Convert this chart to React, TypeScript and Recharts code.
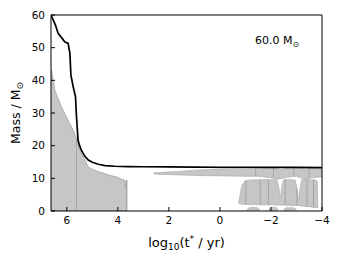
import React from 'react';
import { ComposedChart, XAxis, YAxis, Area, Line, ReferenceLine } from 'recharts';

const xTicks = [6, 4, 2, 0, -2, -4];
const yTicks = [0, 10, 20, 30, 40, 50, 60];

// total stellar mass (black line)
const massX = [6.62, 6.45, 6.34, 6.2, 6.08, 5.95, 5.88, 5.84, 5.75, 5.66, 5.62, 5.56, 5.5, 5.43, 5.3, 5.16, 5.0, 4.77, 4.5, 4.12, 3.6, 3.0, 2.0, 1.0, 0.0, -1.0, -2.0, -3.0, -4.0];
const massY = [60, 57.0, 54.4, 53.0, 51.8, 51.3, 48.3, 41.6, 38, 35, 28.8, 21.7, 20.0, 18.6, 16.8, 15.6, 14.9, 14.3, 13.9, 13.7, 13.6, 13.55, 13.5, 13.45, 13.4, 13.4, 13.35, 13.35, 13.3];

// convective core
const coreX = [6.62, 6.6, 6.47, 6.21, 5.95, 5.75, 5.62, 5.49, 5.29, 5.16, 5.0, 4.82, 4.5, 4.3, 4.0, 3.9, 3.8, 3.74, 3.72, 3.7, 3.68, 3.66, 3.65, 3.649];
const coreTop = [43.5, 43.2, 37, 31.9, 27.8, 24.7, 22.2, 18.6, 15.6, 13.5, 12.8, 12.2, 11.4, 10.9, 10.3, 9.9, 9.6, 9.4, 7.5, 7.2, 9.3, 9.5, 9.4, 0];
const coreBottom = [0, 0, 0, 0, 0, 0, 0, 0, 0, 0, 0, 0, 0, 0, 0, 0, 0, 0, 0, 0, 0, 0, 0, 0];

// thin convective shell
const bandX = [2.6, 2.3, 1.9, 1.5, 1.0, 0.5, 0.0, -0.4, -1.0, -1.5, -2.0, -2.2, -2.4, -2.6, -3.0, -3.2, -3.4, -3.6, -4.0];
const bandTop = [11.7, 11.8, 12.0, 12.2, 12.5, 12.7, 12.9, 13.0, 13.1, 13.1, 13.2, 13.2, 12.6, 13.2, 13.3, 13.3, 12.8, 13.3, 13.3];
const bandBottom = [11.3, 11.2, 11.1, 11.0, 10.9, 10.8, 10.75, 10.7, 10.6, 10.6, 10.2, 9.8, 9.9, 10.3, 10.6, 10.0, 9.9, 10.2, 10.5];

// late convective region
const lowX = [-0.73, -0.8, -0.86, -0.99, -1.2, -1.6, -2.0, -2.24, -2.3, -2.36, -2.38, -2.42, -2.5, -2.8, -2.95, -3.02, -3.07, -3.09, -3.14, -3.2, -3.4, -3.6, -3.75, -3.82, -3.83];
const lowTop = [2.3, 5.5, 7.9, 9.2, 9.5, 9.6, 9.6, 9.6, 7.5, 4.5, 4.5, 7.5, 9.6, 9.6, 9.4, 7.0, 3.8, 3.8, 7.0, 9.6, 9.7, 9.6, 9.5, 9.0, 1.0];
const lowBottom = [2.3, 2.2, 2.1, 2.0, 2.0, 1.9, 1.9, 1.8, 1.8, 1.8, 1.8, 1.8, 1.8, 1.7, 1.7, 1.7, 1.7, 1.7, 1.6, 1.5, 1.4, 1.2, 1.0, 1.0, 1.0];

// small blobs near the centre
const blobAX = [-1.05, -1.15, -1.45, -1.58];
const blobATop = [0.3, 1.0, 1.1, 0.3];
const blobABottom = [0.3, 0.2, 0.2, 0.3];
const blobBX = [-1.9, -2.0, -2.2, -2.28];
const blobBTop = [0.3, 1.1, 1.1, 0.3];
const blobBBottom = [0.3, 0.2, 0.2, 0.3];
const blobCX = [-2.5, -2.6, -2.9, -3.0];
const blobCTop = [0.3, 1.0, 1.0, 0.3];
const blobCBottom = [0.3, 0.2, 0.2, 0.3];

// internal grey lines
const vlineX = [5.62, 3.65, -1.02, -1.58, -1.9, -2.56, -3.02, -3.41, -3.67, -1.4, -2.1, -2.9, -3.5];
const vlineLo = [0, 0, 2.0, 1.9, 1.9, 1.8, 1.7, 1.4, 1.2, 10.7, 10.4, 10.6, 10.0];
const vlineHi = [22.2, 9.4, 9.5, 9.6, 9.6, 9.6, 7.0, 9.7, 9.6, 13.1, 13.2, 13.3, 13.3];

const zipRange = (xs: number[], lo: number[], hi: number[]) => xs.map((x, i) => ({ x, r: [lo[i], hi[i]] }));
const massData = massX.map((x, i) => ({ x, m: massY[i] }));
const coreData = zipRange(coreX, coreBottom, coreTop);
const bandData = zipRange(bandX, bandBottom, bandTop);
const lowData = zipRange(lowX, lowBottom, lowTop);
const blobs = [
  zipRange(blobAX, blobABottom, blobATop),
  zipRange(blobBX, blobBBottom, blobBTop),
  zipRange(blobCX, blobCBottom, blobCTop),
];

const FONT = 'DejaVu Sans';
const GREY = '#c6c6c6';
const EDGE = '#9a9a9a';

const fmt = (v: number) => (v < 0 ? `\u2212${-v}` : `${v}`);

const XLabel = (props: any) => {
  const vb = props.viewBox || {};
  const cx = vb.x + vb.width / 2;
  const y = vb.y + 36;
  return (
    <text x={cx} y={y} textAnchor="middle" fontFamily={FONT} fontSize={13} fill="#000">
      log<tspan dy={3} fontSize={9}>10</tspan>
      <tspan dy={-3}>(t</tspan>
      <tspan dy={-5} fontSize={9}>*</tspan>
      <tspan dy={5}>{' / yr)'}</tspan>
    </text>
  );
};

const YLabel = (props: any) => {
  const vb = props.viewBox || {};
  const cx = vb.x + 11.5;
  const cy = vb.y + vb.height / 2;
  return (
    <text x={cx} y={cy} transform={`rotate(-90, ${cx}, ${cy})`} textAnchor="middle" fontFamily={FONT} fontSize={12.5} fill="#000">
      Mass / M<tspan dy={3} fontSize={9}>⊙</tspan>
    </text>
  );
};

const Annot = (props: any) => {
  const vb = props.viewBox || {};
  const x = vb.x + 204;
  const y = vb.y + 29.5;
  return (
    <text x={x} y={y} fontFamily={FONT} fontSize={11} fill="#000">
      60.0 M<tspan dy={3} fontSize={8}>⊙</tspan>
    </text>
  );
};

export default function App() {
  return (
    <ComposedChart
      width={331}
      height={246}
      margin={{ top: 6, right: 16, left: 0, bottom: 0 }}
      style={{ fontFamily: FONT }}
    >
      <XAxis
        xAxisId={0}
        dataKey="x"
        type="number"
        domain={[-4, 6.62]}
        allowDataOverflow
        reversed
        ticks={xTicks}
        tickFormatter={fmt}
        height={43}
        tickSize={-4}
        tickMargin={10}
        axisLine={{ stroke: '#000', strokeWidth: 1 }}
        tickLine={{ stroke: '#000' }}
        tick={{ fontSize: 10.5, fill: '#000', fontFamily: FONT }}
        label={<XLabel />}
      />
      <XAxis
        xAxisId="top"
        orientation="top"
        dataKey="x"
        type="number"
        domain={[-4, 6.62]}
        allowDataOverflow
        reversed
        ticks={xTicks}
        height={1}
        tickSize={-4}
        axisLine={{ stroke: '#000', strokeWidth: 1 }}
        tickLine={{ stroke: '#000' }}
        tick={false}
        label={<Annot />}
      />
      <YAxis
        yAxisId={0}
        type="number"
        domain={[0, 60]}
        allowDataOverflow
        ticks={yTicks}
        width={43}
        tickSize={-4}
        tickMargin={10}
        axisLine={{ stroke: '#000', strokeWidth: 1 }}
        tickLine={{ stroke: '#000' }}
        tick={{ fontSize: 10.5, fill: '#000', fontFamily: FONT }}
        label={<YLabel />}
      />
      <YAxis
        yAxisId="right"
        orientation="right"
        type="number"
        domain={[0, 60]}
        allowDataOverflow
        ticks={yTicks}
        width={1}
        tickSize={-4}
        axisLine={{ stroke: '#000', strokeWidth: 1 }}
        tickLine={{ stroke: '#000' }}
        tick={false}
      />
      <Area data={coreData} dataKey="r" type="linear" stroke={EDGE} strokeWidth={0.7} fill={GREY} fillOpacity={1} isAnimationActive={false} dot={false} activeDot={false} />
      <Area data={bandData} dataKey="r" type="linear" stroke={EDGE} strokeWidth={0.5} fill={GREY} fillOpacity={1} isAnimationActive={false} dot={false} activeDot={false} />
      <Area data={lowData} dataKey="r" type="linear" stroke={EDGE} strokeWidth={0.5} fill={GREY} fillOpacity={1} isAnimationActive={false} dot={false} activeDot={false} />
      {blobs.map((b, i) => (
        <Area key={i} data={b} dataKey="r" type="linear" stroke={EDGE} strokeWidth={0.5} fill={GREY} fillOpacity={1} isAnimationActive={false} dot={false} activeDot={false} />
      ))}
      {vlineX.map((x, i) => (
        <ReferenceLine
          key={`v${i}`}
          segment={[{ x, y: vlineLo[i] }, { x, y: vlineHi[i] }]}
          stroke={EDGE}
          strokeWidth={0.8}
          ifOverflow="visible"
        />
      ))}
      <Line data={massData} dataKey="m" type="linear" stroke="#000" strokeWidth={1.7} dot={false} activeDot={false} isAnimationActive={false} />
    </ComposedChart>
  );
}
